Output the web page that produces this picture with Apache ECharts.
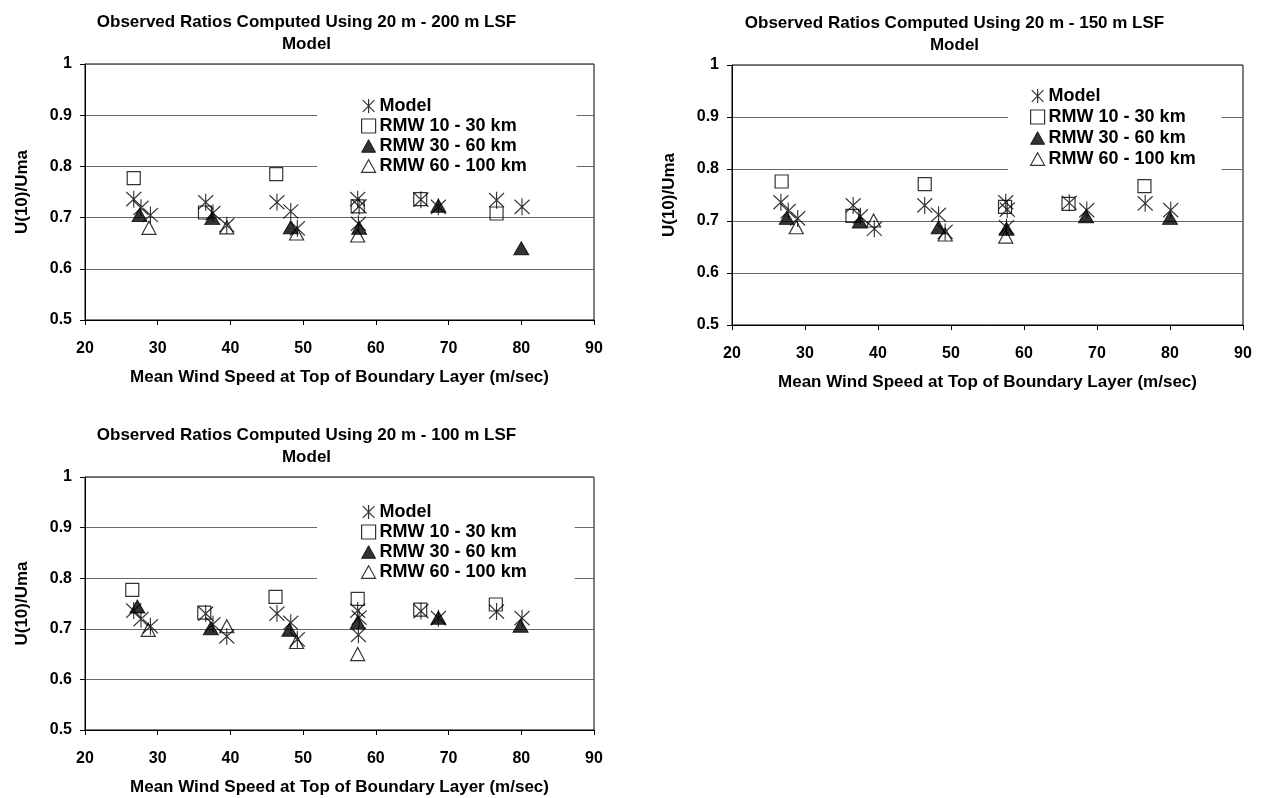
<!DOCTYPE html>
<html>
<head>
<meta charset="utf-8">
<script src="https://cdn.jsdelivr.net/npm/echarts@6/dist/echarts.min.js"></script>
<style>
html,body{margin:0;padding:0;background:#fff;}
#c{width:1261px;height:798px;}
</style>
</head>
<body>
<div id="c"></div>
<script>
// ---------- data ----------
const seriesNames = ['Model', 'RMW 10 - 30 km', 'RMW 30 - 60 km', 'RMW 60 - 100 km'];
const panelTitles = [
  'Observed Ratios Computed Using 20 m - 200 m LSF\nModel',
  'Observed Ratios Computed Using 20 m - 150 m LSF\nModel',
  'Observed Ratios Computed Using 20 m - 100 m LSF\nModel'
];
const xAxisTitle = 'Mean Wind Speed at Top of Boundary Layer (m/sec)';
const yAxisTitle = 'U(10)/Uma';

// Model (same in every panel)
const modelPts = [[26.7,0.736],[27.7,0.719],[29.0,0.705],[36.6,0.730],[37.6,0.709],[39.5,0.685],
  [46.4,0.730],[48.3,0.712],[49.2,0.679],[57.5,0.736],[57.7,0.722],[57.6,0.688],
  [66.2,0.735],[68.6,0.721],[76.6,0.734],[80.1,0.721]];

// Panel 1: 20 m - 200 m
const p1Rmw10 = [[26.7,0.777],[36.5,0.710],[46.3,0.785],[57.5,0.722],[66.1,0.736],[76.6,0.708]];
const p1Rmw30 = [[27.5,0.705],[37.5,0.699],[48.3,0.681],[57.7,0.680],[68.6,0.723],[80.0,0.640]];
const p1Rmw60 = [[28.8,0.680],[39.5,0.681],[49.1,0.669],[57.5,0.665]];

// Panel 2: 20 m - 150 m
const p2Rmw10 = [[26.8,0.776],[36.5,0.710],[46.4,0.771],[57.4,0.727],[66.1,0.733],[76.5,0.767]];
const p2Rmw30 = [[27.5,0.706],[37.5,0.699],[48.3,0.688],[57.6,0.685],[68.5,0.709],[80.0,0.706]];
const p2Rmw60 = [[28.8,0.688],[39.4,0.701],[49.2,0.674],[57.5,0.670]];

// Panel 3: 20 m - 100 m
const p3Rmw10 = [[26.5,0.777],[36.4,0.732],[46.2,0.763],[57.5,0.759],[66.1,0.738],[76.5,0.748]];
const p3Rmw30 = [[27.2,0.744],[37.3,0.701],[48.1,0.698],[57.5,0.713],[68.6,0.722],[79.9,0.706]];
const p3Rmw60 = [[28.7,0.698],[39.5,0.705],[49.1,0.674],[57.5,0.650]];

// ---------- styling ----------
const FONT = "'Liberation Sans', Arial, sans-serif";
const SYM = {
  model: 'path://M0,1L10,11M10,1L0,11M5,0L5,12',
  square: 'path://M0,0L10,0L10,10L0,10Z',
  tri: 'path://M5,0L10,9L0,9Z'
};
const styles = [
  {symbol: SYM.model, size: [15,17], item: {color:'rgba(0,0,0,0)', borderColor:'#000', borderWidth:1.2}},
  {symbol: SYM.square, size: [13,13], item: {color:'rgba(0,0,0,0)', borderColor:'#000', borderWidth:1.2}},
  {symbol: SYM.tri, size: [15,13], item: {color:'#000', borderColor:'#000', borderWidth:1}},
  {symbol: SYM.tri, size: [14,13], item: {color:'rgba(0,0,0,0)', borderColor:'#000', borderWidth:1.2}}
];

const grids = [
  {left: 85, top: 64, width: 509, height: 256},
  {left: 732, top: 65, width: 511, height: 260},
  {left: 85, top: 477, width: 509, height: 253}
];
const legendPos = [
  {left: 317, top: 89, itemGap: 2, padL: 44, padR: 50},
  {left: 1008, top: 79, itemGap: 3, padL: 22, padR: 26},
  {left: 317, top: 495, itemGap: 2, padL: 44, padR: 48}
];
const panelData = [
  [modelPts, p1Rmw10, p1Rmw30, p1Rmw60],
  [modelPts, p2Rmw10, p2Rmw30, p2Rmw60],
  [modelPts, p3Rmw10, p3Rmw30, p3Rmw60]
];

const option = {
  backgroundColor: '#fff',
  animation: false,
  textStyle: {fontFamily: FONT},
  grid: [], xAxis: [], yAxis: [], series: [], legend: [], graphic: []
};

grids.forEach((g, i) => {
  option.grid.push(Object.assign({show: true, borderColor: '#000', borderWidth: 1, backgroundColor: '#fff'}, g));
  option.xAxis.push({
    type: 'value', gridIndex: i, min: 20, max: 90, interval: 10,
    name: xAxisTitle, nameLocation: 'middle', nameGap: 49,
    nameTextStyle: {fontFamily: FONT, fontWeight: 'bold', fontSize: 17, color: '#000'},
    axisLine: {show: true, onZero: false, lineStyle: {color: '#000', width: 1}},
    axisTick: {show: true, inside: false, length: 5, lineStyle: {color: '#000'}},
    axisLabel: {fontFamily: FONT, fontWeight: 'bold', fontSize: 16, color: '#000', margin: 21},
    splitLine: {show: false}
  });
  option.yAxis.push({
    type: 'value', gridIndex: i, min: 0.5, max: 1, interval: 0.1,
    name: yAxisTitle, nameLocation: 'middle', nameGap: 54, nameRotate: 90,
    nameTextStyle: {fontFamily: FONT, fontWeight: 'bold', fontSize: 17, color: '#000'},
    axisLine: {show: true, onZero: false, lineStyle: {color: '#000', width: 1}},
    axisTick: {show: true, inside: false, length: 5, lineStyle: {color: '#000'}},
    axisLabel: {fontFamily: FONT, fontWeight: 'bold', fontSize: 16, color: '#000', margin: 13,
      formatter: v => String(Math.round(v * 10) / 10)},
    splitLine: {show: true, lineStyle: {color: '#666', width: 1}}
  });
  panelData[i].forEach((d, k) => {
    option.series.push({
      type: 'scatter', name: seriesNames[k], xAxisIndex: i, yAxisIndex: i,
      data: d, symbol: styles[k].symbol, symbolSize: styles[k].size,
      itemStyle: styles[k].item, z: 3 + k,
      emphasis: {disabled: true}
    });
  });
  const lp = legendPos[i];
  option.legend.push({
    orient: 'vertical', left: lp.left, top: lp.top,
    backgroundColor: '#fff', padding: [8, lp.padR, 8, lp.padL],
    itemGap: lp.itemGap, itemWidth: 14, itemHeight: 14, selectedMode: false,
    textStyle: {fontFamily: FONT, fontWeight: 'bold', fontSize: 18, color: '#000', lineHeight: 18, padding: [0,0,0,-1]},
    data: seriesNames.map((n, k) => ({name: n, icon: styles[k].symbol, itemStyle: styles[k].item})),
    z: 10
  });
  const cx = g.left + g.width / 2 - 33;
  option.graphic.push({
    type: 'text', x: cx, y: g.top - 53, z: 20,
    style: {text: panelTitles[i], fill: '#000', font: 'bold 17px ' + FONT, textAlign: 'center', lineHeight: 22}
  });
});

const chart = echarts.init(document.getElementById('c'), null, {renderer: 'canvas'});
chart.setOption(option);
</script>
</body>
</html>
